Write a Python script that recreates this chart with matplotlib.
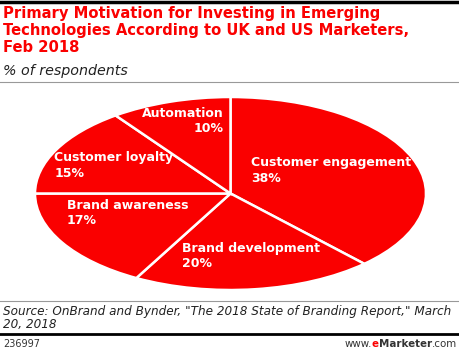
import matplotlib
matplotlib.use("Agg")
import matplotlib.pyplot as plt
from matplotlib.lines import Line2D

# data
categories = ["Customer engagement", "Brand development", "Brand awareness",
              "Customer loyalty", "Automation"]
shares = [38, 20, 17, 15, 10]
pct_labels = ["38%", "20%", "17%", "15%", "10%"]

# label anchor (axes fraction) and alignment, one per slice
label_pos = [(0.552, 0.62, "left"), (0.377, 0.175, "left"), (0.082, 0.40, "left"),
             (0.049, 0.645, "left"), (0.482, 0.875, "right")]

RED = "#fa0000"

fig = plt.figure(figsize=(4.6, 3.52), dpi=100)
W, H = 460.0, 352.0

def fx(px):
    return px / W

def fy(py):
    return 1 - py / H

# pie stretched into an ellipse
ax = fig.add_axes([fx(35), fy(290), fx(391), 193 / H])
ax.pie(shares, startangle=90, counterclock=False, colors=[RED] * len(shares),
       wedgeprops=dict(edgecolor="white", linewidth=1.8))
ax.set_aspect("auto")
ax.set_xlim(-1, 1)
ax.set_ylim(-1, 1)
ax.axis("off")

for cat, pct, (x, y, ha) in zip(categories, pct_labels, label_pos):
    ax.text(x, y, cat + "\n" + pct, transform=ax.transAxes, ha=ha, va="center",
            color="white", fontsize=9, fontweight="bold", linespacing=1.25)

# title block
fig.add_artist(Line2D([0, 1], [fy(2), fy(2)], color="black", lw=2.5))
fig.text(fx(3), fy(6), "Primary Motivation for Investing in Emerging\n"
         "Technologies According to UK and US Marketers,\nFeb 2018",
         ha="left", va="top", color=RED, fontsize=10.6, fontweight="bold",
         linespacing=1.15)
fig.text(fx(3), fy(71), "% of respondents", ha="left", va="center",
         fontsize=10.3, style="italic", color="#222222")
fig.add_artist(Line2D([0, 1], [fy(82), fy(82)], color="#999999", lw=0.8))

# footer
fig.add_artist(Line2D([0, 1], [fy(301), fy(301)], color="#999999", lw=0.8))
fig.text(fx(3), fy(318), "Source: OnBrand and Bynder, \"The 2018 State of Branding Report,\" March\n"
         "20, 2018", ha="left", va="center", fontsize=8.65, style="italic",
         color="#222222", linespacing=1.05)
fig.add_artist(Line2D([0, 1], [fy(334), fy(334)], color="black", lw=2))
fig.text(fx(3), fy(344), "236997", ha="left", va="center", fontsize=7,
         color="#333333")

renderer = fig.canvas.get_renderer()
parts = [(".com", "normal", "#333333"), ("Marketer", "bold", "#333333"),
         ("e", "bold", RED), ("www.", "normal", "#333333")]
xr = fx(457)
for txt, wt, col in parts:
    t = fig.text(xr, fy(344), txt, ha="right", va="center", fontsize=7.4,
                 fontweight=wt, color=col)
    bb = t.get_window_extent(renderer)
    xr -= bb.width / fig.bbox.width

fig.savefig("out.png", dpi=100)
